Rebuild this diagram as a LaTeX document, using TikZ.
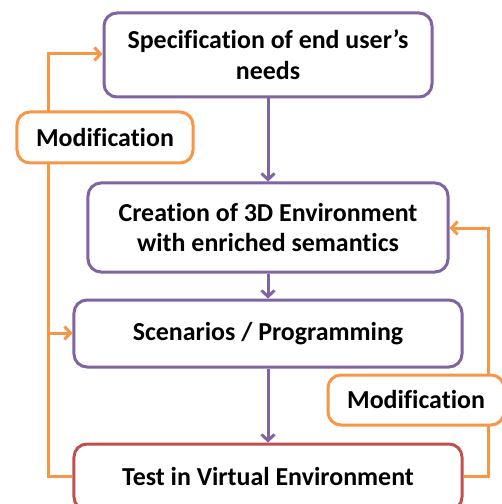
\documentclass[tikz,border=0pt]{standalone}
\usepackage{fontspec}
\setmainfont[Ligatures=CommonOff]{Carlito}
\usetikzlibrary{arrows.meta}
\definecolor{stepviolet}{HTML}{8064A2}
\definecolor{steporange}{HTML}{F79646}
\definecolor{stepred}{HTML}{C0504D}
\tikzset{
  stepbox/.style={
    draw=stepviolet, line width=3bp, rounded corners=13bp, fill=white,
    align=center, font=\fontsize{26}{31}\selectfont\bfseries,
    inner sep=0pt,
  },
  modbox/.style={
    stepbox, draw=steporange,
  },
  flow/.style={
    -{Straight Barb[length=6bp,width=13bp]}, stepviolet, line width=3bp,
  },
  loop/.style={
    -{Straight Barb[length=6bp,width=13bp]}, steporange, line width=3bp,
  },
}

\begin{document}
\begin{tikzpicture}[x=1bp,y=-1bp] % design cycle
    \useasboundingbox (0,0) rectangle (502,504);
    \clip (0,0) rectangle (502,504);

    % steps (centre, size)
    \node (spec) [stepbox, minimum width=328bp, minimum height=84bp]
        at (268,55) {Specification of end user’s\\needs};
    \node (env)  [stepbox, minimum width=360bp, minimum height=89bp]
        at (268,227.5) {Creation of 3D Environment\\with enriched semantics};
    \node (scen) [stepbox, minimum width=388bp, minimum height=67bp]
        at (268,333.5) {Scenarios / Programming};
    \node (test) [stepbox, draw=stepred, minimum width=388bp, minimum height=66bp]
        at (268,477) {Test in Virtual Environment};

    % feedback corners
    \coordinate (lt) at (48,54);
    \coordinate (lb) at (48,476);
    \coordinate (ls) at (48,333);
    \coordinate (rt) at (488,228);
    \coordinate (rb) at (488,476);

    % main flow
    \draw [flow] (spec) -- (env);
    \draw [flow] (env) -- (scen);
    \draw [flow] (scen) -- (test);

    % modification loops
    \draw [loop] (test.west |- lb) -- (lb) -- (lt) -- (spec.west |- lt);
    \draw [loop] (ls) -- (scen.west |- ls);
    \draw [loop] (test.east |- rb) -- (rb) -- (rt) -- (env.east |- rt);

    \node (modl) [modbox, minimum width=176bp, minimum height=51bp]
        at (105,137.5) {Modification};
    \node (modr) [modbox, minimum width=176bp, minimum height=50bp]
        at (416,400) {Modification};
\end{tikzpicture}
\end{document}
